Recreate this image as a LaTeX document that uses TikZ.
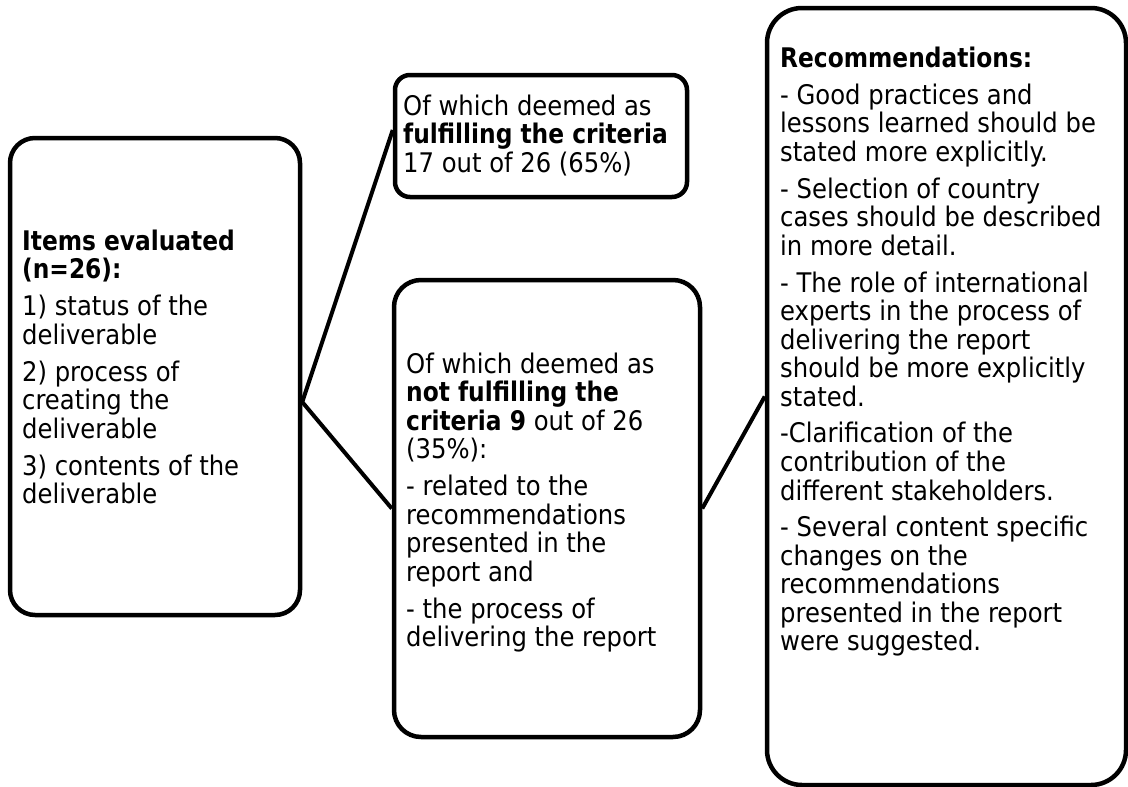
\documentclass[tikz,border=0pt]{standalone}
\usepackage{fontspec}
\setmainfont{DejaVu Sans Condensed}[BoldFeatures={FakeStretch=0.96}]
\begin{document}
\begin{tikzpicture}[x=1pt,y=-1pt,
  card/.style={draw=black, line width=4.5pt, fill=white, rectangle, inner sep=0pt},
  link/.style={draw=black, line width=4pt},
  body/.style={anchor=base west, inner sep=0pt, font=\fontsize{27}{28.5}\selectfont}]
\useasboundingbox (0,0) rectangle (1128,787);

% boxes
\node[card, rounded corners=25pt, minimum width=290pt, minimum height=477pt] (b1) at (155,376.5) {};
\node[card, rounded corners=15pt, minimum width=292pt, minimum height=122pt] (b2) at (541,136) {};
\node[card, rounded corners=27pt, minimum width=306pt, minimum height=457pt] (b3) at (547,508.5) {};
\node[card, rounded corners=35pt, minimum width=359pt, minimum height=777pt] (b4) at (946.5,396.5) {};

% connectors
\coordinate (hub) at ([yshift=-25.5pt]b1.east);
\draw[link] (hub) -- ([yshift=6pt]b2.west);
\draw[link] (hub) -- (b3.west);
\draw[link] (b3.east) -- (b4.west);

% texts
\node[body] (t1) at (22,250) {\parbox[t]{270pt}{\setlength{\parskip}{8.5pt}\raggedright
{\bfseries Items evaluated\\(n=26):}\par
1) status of the\\deliverable\par
2) process of\\creating the\\deliverable\par
3) contents of the\\deliverable}};

\node[body] (t2) at (403,115) {\parbox[t]{280pt}{\raggedright
Of which deemed as\\{\bfseries fulfilling the criteria}\\17 out of 26 (65\%)}};

\node[body] (t3) at (406,373) {\parbox[t]{290pt}{\setlength{\parskip}{8.5pt}\raggedright
Of which deemed as\\{\bfseries not fulfilling the\\criteria 9} out of 26\\(35\%):\par
- related to the\\recommendations\\presented in the\\report and\par
- the process of\\delivering the report}};

\node[body] (t4) at (780,67) {\parbox[t]{345pt}{\setlength{\parskip}{8.5pt}\raggedright
{\bfseries Recommendations:}\par
- Good practices and\\lessons learned should be\\stated more explicitly.\par
- Selection of country\\cases should be described\\in more detail.\par
- The role of international\\experts in the process of\\delivering the report\\should be more explicitly\\stated.\par
-Clarification of the\\contribution of the\\different stakeholders.\par
- Several content specific\\changes on the\\recommendations\\presented in the report\\were suggested.}};
\end{tikzpicture}
\end{document}
